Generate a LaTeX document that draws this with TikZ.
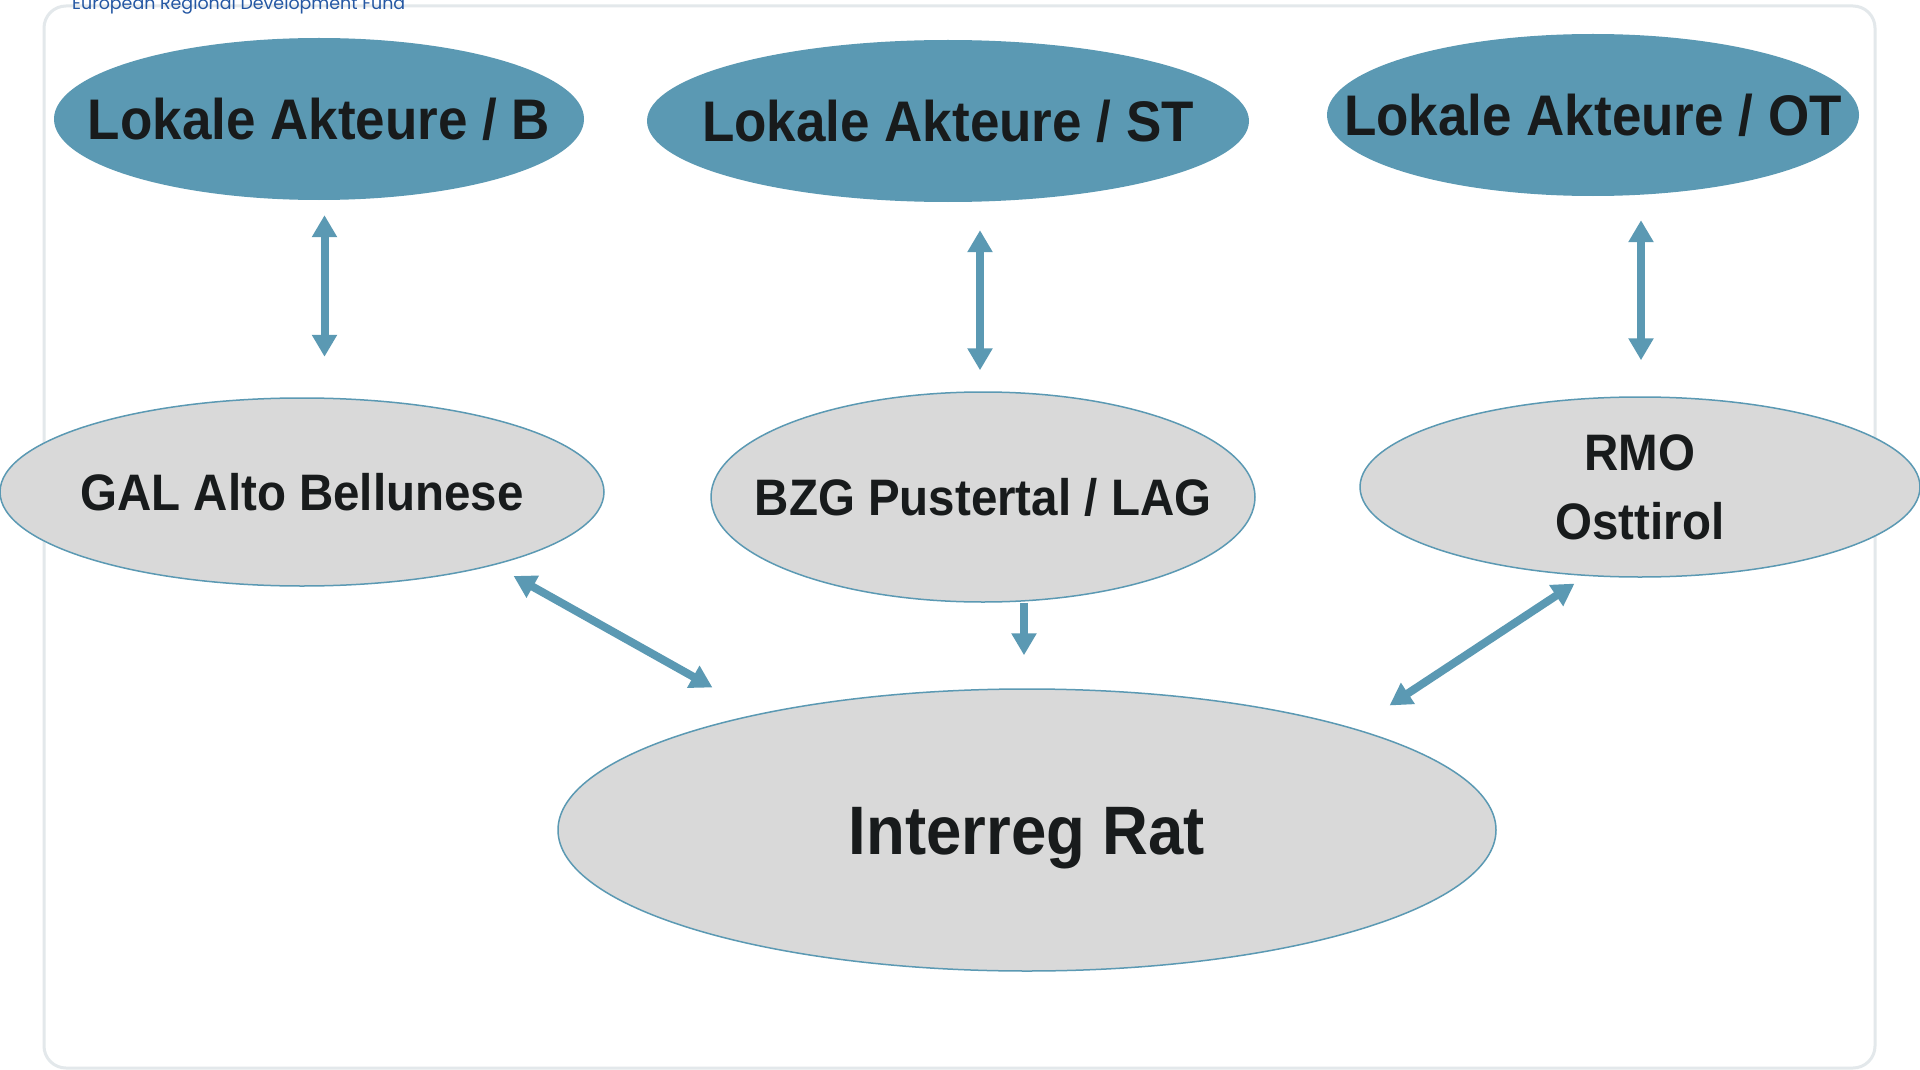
\documentclass[tikz,border=0pt]{standalone}
\usepackage{fontspec}
\setmainfont{Liberation Sans}
\newfontfamily\eufont{Poppins}
\usetikzlibrary{shapes.geometric,arrows.meta,calc}
\definecolor{cblue}{HTML}{5B99B3}
\definecolor{cgray}{HTML}{D9D9D9}
\definecolor{ctext}{HTML}{181B1C}
\definecolor{cframe}{HTML}{E3E8EB}
\definecolor{ceu}{HTML}{2457A3}
\newcommand\stretchy[1]{\scalebox{1}[1.08]{#1}}
\begin{document}
\begin{tikzpicture}[x=1pt,y=-1pt,
  blueell/.style={ellipse, fill=cblue, draw=none, inner sep=0pt},
  grayell/.style={ellipse, fill=cgray, draw=cblue, line width=1.5pt, inner sep=0pt},
  toptxt/.style={font=\bfseries\fontsize{53}{60}\selectfont, text=ctext, inner sep=0pt},
  midtxt/.style={font=\bfseries\fontsize{47.5}{64}\selectfont, text=ctext, inner sep=0pt},
  bigtxt/.style={font=\bfseries\fontsize{63.5}{70}\selectfont, text=ctext, inner sep=0pt},
  dbl/.style={draw=cblue, line width=8pt, {Triangle[length=22pt,width=24pt]}-{Triangle[length=22pt,width=24pt]}},
  sgl/.style={draw=cblue, line width=8pt, -{Triangle[length=22pt,width=24pt]}},
  frame/.style={draw=cframe, line width=3pt, rounded corners=22pt}
]
\useasboundingbox (0,0) rectangle (1920,1070);
\fill[white] (0,0) rectangle (1920,1070);
% frame
\draw[frame] (44,6) rectangle (1875,1068);
\node[anchor=base west, inner sep=0pt, text=ceu] (eu) at (72,10)
  {\resizebox{333pt}{!}{\eufont\fontsize{17}{20}\selectfont European Regional Development Fund}};
% top ellipses
\node[blueell, minimum width=530pt, minimum height=162pt,
  label={[toptxt]center:{\stretchy{Lokale Akteure / B}}}] (B) at (319,119) {};
\node[blueell, minimum width=602pt, minimum height=162pt,
  label={[toptxt]center:{\stretchy{Lokale Akteure / ST}}}] (ST) at (948,121) {};
\node[blueell, minimum width=532pt, minimum height=162pt,
  label={[toptxt]center:{\stretchy{Lokale Akteure / OT}}}] (OT) at (1593,115) {};
% middle ellipses
\node[grayell, minimum width=604pt, minimum height=188pt,
  label={[midtxt]center:{\stretchy{GAL Alto Bellunese}}}] (GAL) at (302,492) {};
\node[grayell, minimum width=544pt, minimum height=210pt,
  label={[midtxt]center:{\stretchy{BZG Pustertal / LAG}}}] (BZG) at (983,497) {};
\node[grayell, minimum width=560pt, minimum height=180pt,
  label={[midtxt, yshift=-4pt]center:{\stretchy{\begin{tabular}{@{}c@{}}RMO\\Osttirol\end{tabular}}}}] (RMO) at (1640,487) {};
% bottom ellipse
\node[grayell, minimum width=938pt, minimum height=282pt,
  label={[bigtxt, yshift=-8pt]center:{\stretchy{Interreg Rat}}}] (IR) at (1027,830) {};
% connectors
\draw[dbl] ([shift={(5.5,15)}]B.south) -- ([shift={(22.5,-40.5)}]GAL.north);
\draw[dbl] ([shift={(32,28)}]ST.south) -- ([shift={(-3,-21)}]BZG.north);
\draw[dbl] ([shift={(48,24)}]OT.south) -- ([shift={(1,-36)}]RMO.north);
\draw[dbl] ([shift={(-2.5,17)}]GAL.south east) -- ([shift={(17.6,-42.3)}]IR.north west);
\draw[sgl] ([shift={(41,0)}]BZG.south) -- ([shift={(-3,-33)}]IR.north);
\draw[dbl] ([shift={(133,32.4)}]RMO.south west) -- ([shift={(30.4,-24.3)}]IR.north east);
\end{tikzpicture}
\end{document}
